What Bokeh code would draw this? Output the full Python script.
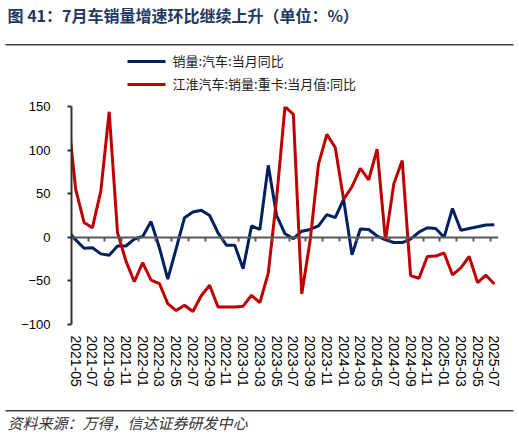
import math
import pandas as pd
from bokeh.plotting import figure
from bokeh.layouts import column
from bokeh.models import Range1d, FixedTicker, LinearAxis, CustomJSTickFormatter
from bokeh.core.properties import value
from bokeh.embed import file_html
from bokeh.resources import INLINE

# ---- data -------------------------------------------------------------
months = [str(m) for m in pd.period_range("2021-04", "2025-07", freq="M")]

auto_yoy = [8, -3, -12.5, -12, -19, -20.5, -10, -10, -2,
            1, 18, -12, -48, -13, 22.5, 29, 31, 25, 5, -9, -9,
            -36, 13, 9, 82.5, 25, 4, -1.5, 7, 9, 13, 26, 22.5,
            43.5, -20, 9.5, 9, 1.5, -3, -6, -6, -2, 6, 11, 10,
            0, 33, 8, 10, 12, 14, 14.5]

jac_hd_yoy = [147, 55, 17, 11, 53, 144, 5, -27, -51,
              -29, -49, -53, -76, -84, -78, -85, -67, -55, -80, -80, -80,
              -79, -66.5, -75, -41, 45, 150, 141, -65, -4, 84, 118, 103,
              43.5, 58, 79, 66, 101, -3.5, 61.5, 88, -44, -47, -22, -21.5,
              -18, -43, -35, -22, -52, -43.5, -53.5]

series_names = ["销量:汽车:当月同比", "江淮汽车:销量:重卡:当月值:同比"]
series_colors = ["#002060", "#C00000"]
y_ticks = [-100, -50, 0, 50, 100, 150]

title_text = "图 41：7月车销量增速环比继续上升（单位：%）"
source_text = "资料来源：万得，信达证券研发中心"

W = 515
CJK = "Noto Sans CJK SC"


def no_align(fig):
    try:
        fig.frame_align = False
    except Exception:
        pass


# ---- header: title, rule, legend (header canvas works in pixels) --------
H1 = 94
hdr = figure(width=W, height=H1, output_backend="svg", toolbar_location=None,
             x_range=Range1d(0, W), y_range=Range1d(0, H1),
             x_axis_type=None, y_axis_type=None, min_border=0)
no_align(hdr)
hdr.outline_line_color = None
hdr.grid.visible = False
hdr.text(x=[7], y=[H1 - 14], text=[title_text], text_baseline="middle",
         text_align="left", text_font=value(CJK), text_font_size="16px",
         text_font_style="bold", text_color="#1F3864")
hdr.quad(left=[5], right=[513], top=[H1 - 43.6], bottom=[H1 - 45],
         fill_color="#404040", fill_alpha=1, line_color=None)
# legend: sample line + label for each series
legend_rows = [61, 84]
for name, color, row in zip(series_names, series_colors, legend_rows):
    hdr.line(x=[127, 165], y=[H1 - row, H1 - row], line_color=color,
             line_width=3)
    hdr.text(x=[172], y=[H1 - row + 1.5], text=[name], text_baseline="middle",
             text_align="left", text_font=value(CJK), text_font_size="13px",
             text_color="#222222")

# ---- main chart --------------------------------------------------------
x = list(range(len(months)))
label_ticks = x[1::2]
bound_ticks = [i - 0.5 for i in x[1::2]]

p = figure(width=W, height=308, output_backend="svg", toolbar_location=None,
           x_range=Range1d(0.5, len(months) - 0.5), y_range=Range1d(-100, 150),
           min_border_left=71, min_border_right=W - 498, min_border_top=12,
           min_border_bottom=78)
no_align(p)
p.outline_line_color = None
p.grid.visible = False

p.line(x, auto_yoy, line_color=series_colors[0], line_width=3)
p.line(x, jac_hd_yoy, line_color=series_colors[1], line_width=3)

ya = p.yaxis[0]
ya.ticker = FixedTicker(ticks=y_ticks)
ya.major_tick_out = 4
ya.major_tick_in = 0
ya.minor_tick_line_color = None
ya.axis_line_color = "#303030"
ya.axis_line_width = 2
ya.major_tick_line_color = "#303030"
ya.major_tick_line_width = 2
ya.major_label_standoff = 17
ya.major_label_text_font = "Liberation Sans"
ya.major_label_text_font_size = "13px"
ya.major_label_text_color = "black"

xa = p.xaxis[0]
xa.ticker = FixedTicker(ticks=label_ticks)
xa.major_label_overrides = {i: months[i] for i in label_ticks}
xa.major_label_orientation = -math.pi / 2
xa.axis_line_color = None
xa.major_tick_line_color = None
xa.minor_tick_line_color = None
xa.major_tick_out = 0
xa.major_tick_in = 0
xa.major_label_standoff = 11
xa.major_label_text_font = "Liberation Sans"
xa.major_label_text_font_size = "14px"
xa.major_label_text_color = "black"

xa0 = LinearAxis(fixed_location=0, ticker=FixedTicker(ticks=bound_ticks),
                 formatter=CustomJSTickFormatter(code="return ''"),
                 axis_line_color="#595959", axis_line_width=2,
                 major_tick_line_color="#595959", major_tick_line_width=2,
                 minor_tick_line_color=None, major_tick_out=4, major_tick_in=0,
                 major_label_text_font_size="1px")
p.add_layout(xa0, "below")

# ---- footer: rule and source ------------------------------------------
H3 = 33
ftr = figure(width=W, height=H3, output_backend="svg", toolbar_location=None,
             x_range=Range1d(0, W), y_range=Range1d(0, H3),
             x_axis_type=None, y_axis_type=None, min_border=0)
no_align(ftr)
ftr.outline_line_color = None
ftr.grid.visible = False
ftr.quad(left=[5], right=[513], top=[H3 - 7.6], bottom=[H3 - 9],
         fill_color="#404040", fill_alpha=1, line_color=None)
ftr.text(x=[7], y=[H3 - 20], text=[source_text], text_baseline="middle",
         text_align="left", text_font=value(CJK), text_font_size="15px",
         text_font_style="italic", text_color="#333333")

layout = column(hdr, p, ftr, spacing=0)
open("out.html", "w").write(file_html(layout, INLINE))
